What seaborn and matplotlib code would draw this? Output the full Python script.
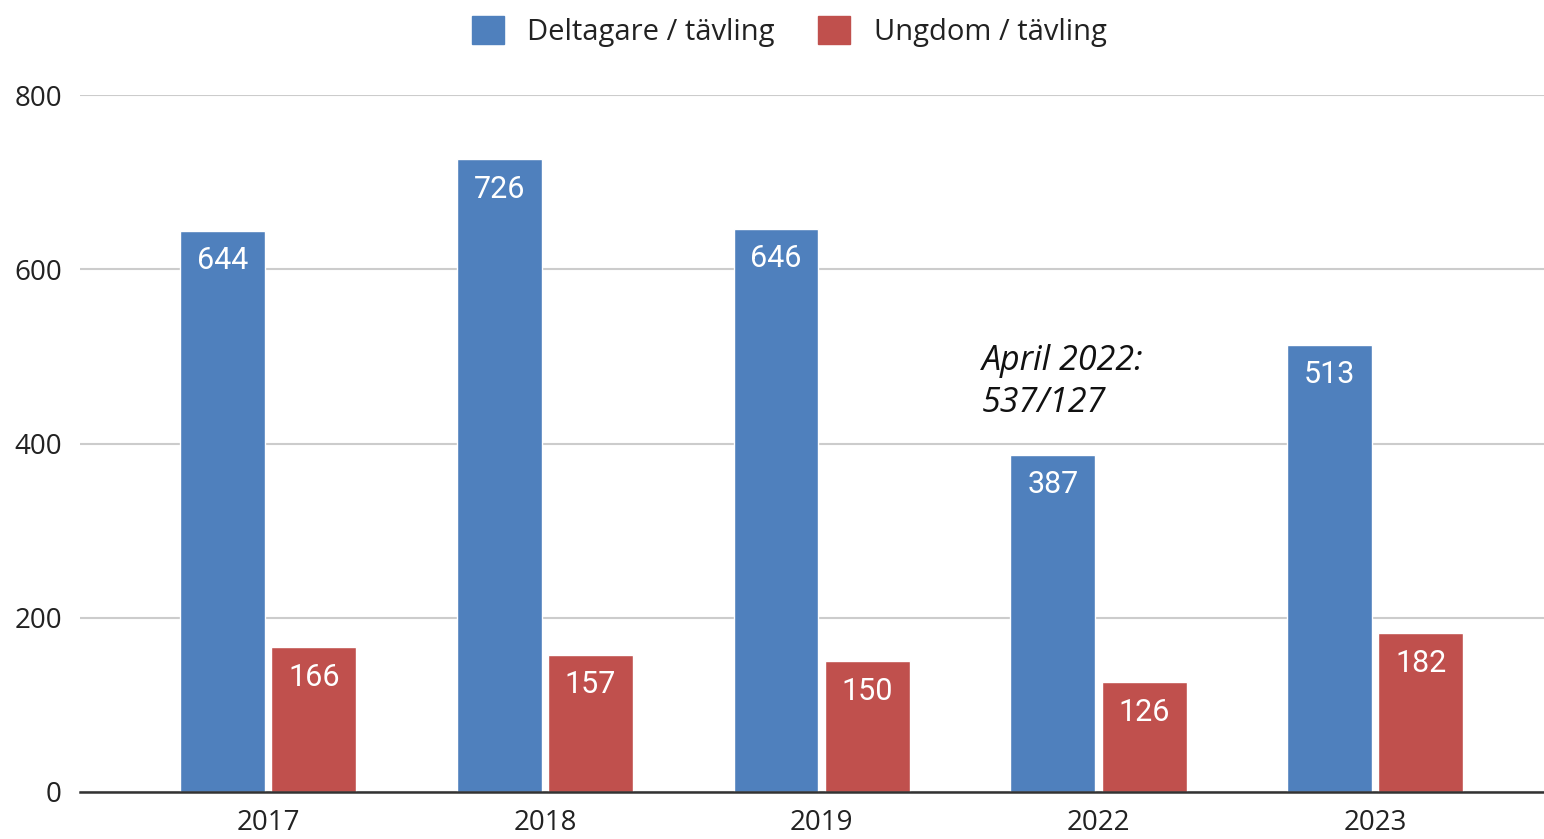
import matplotlib
matplotlib.use('Agg')
import matplotlib.pyplot as plt
import seaborn as sns
import pandas as pd

years = ['2017', '2018', '2019', '2022', '2023']
deltagare = [644, 726, 646, 387, 513]
ungdom = [166, 157, 150, 126, 182]
series = ['Deltagare / tävling', 'Ungdom / tävling']
colors = ['#4f80bd', '#c0504d']

df = pd.DataFrame({
    'year': years * 2,
    'value': deltagare + ungdom,
    'series': [series[0]] * len(years) + [series[1]] * len(years),
})

sns.set_theme(style='white')
plt.rcParams['font.family'] = ['Open Sans', 'DejaVu Sans']

fig = plt.figure(figsize=(15.44, 8.39), dpi=100)
ax = fig.add_axes([80 / 1544, 1 - 792 / 839, 1 - 80 / 1544, (792 - 95) / 839])

sns.barplot(data=df, x='year', y='value', hue='series', palette=colors,
            width=0.66, gap=0.07, saturation=1, ax=ax, legend=False)

# value labels inside the top of each bar
for cont in ax.containers:
    for bar in cont:
        h = bar.get_height()
        ax.annotate(f'{h:.0f}', (bar.get_x() + bar.get_width() / 2, h),
                    xytext=(0, -11), textcoords='offset points',
                    ha='center', va='top', color='white', fontsize=22,
                    family=['Roboto', 'DejaVu Sans'])

ax.text(2.58, 514, 'April 2022:\n537/127', fontsize=24.5, style='italic',
        ha='left', va='top', linespacing=1.32, color='#111111')

ax.set_ylim(0, 800)
ax.set_xlim(-0.68, 4.61)
ax.set_yticks([0, 200, 400, 600, 800])
ax.yaxis.grid(True, color='#cccccc', lw=1.5)
ax.set_axisbelow(True)
for s in ['top', 'right', 'left']:
    ax.spines[s].set_visible(False)
ax.spines['bottom'].set_color('#333333')
ax.spines['bottom'].set_linewidth(1.8)
ax.tick_params(axis='y', length=0, pad=13, labelsize=20, labelcolor='#222222')
ax.tick_params(axis='x', length=0, pad=12, labelsize=20, labelcolor='#222222')
ax.set_xlabel('')
ax.set_ylabel('')

handles = [plt.Rectangle((0, 0), 1, 1, color=c) for c in colors]
fig.legend(handles, series, loc='upper center', bbox_to_anchor=(0.511, 1.012),
           ncol=2, frameon=False, fontsize=21, handlelength=1.1,
           handleheight=1.1, handletextpad=0.8, columnspacing=1.5,
           labelcolor='#222222')

fig.savefig('out.png', dpi=100)
